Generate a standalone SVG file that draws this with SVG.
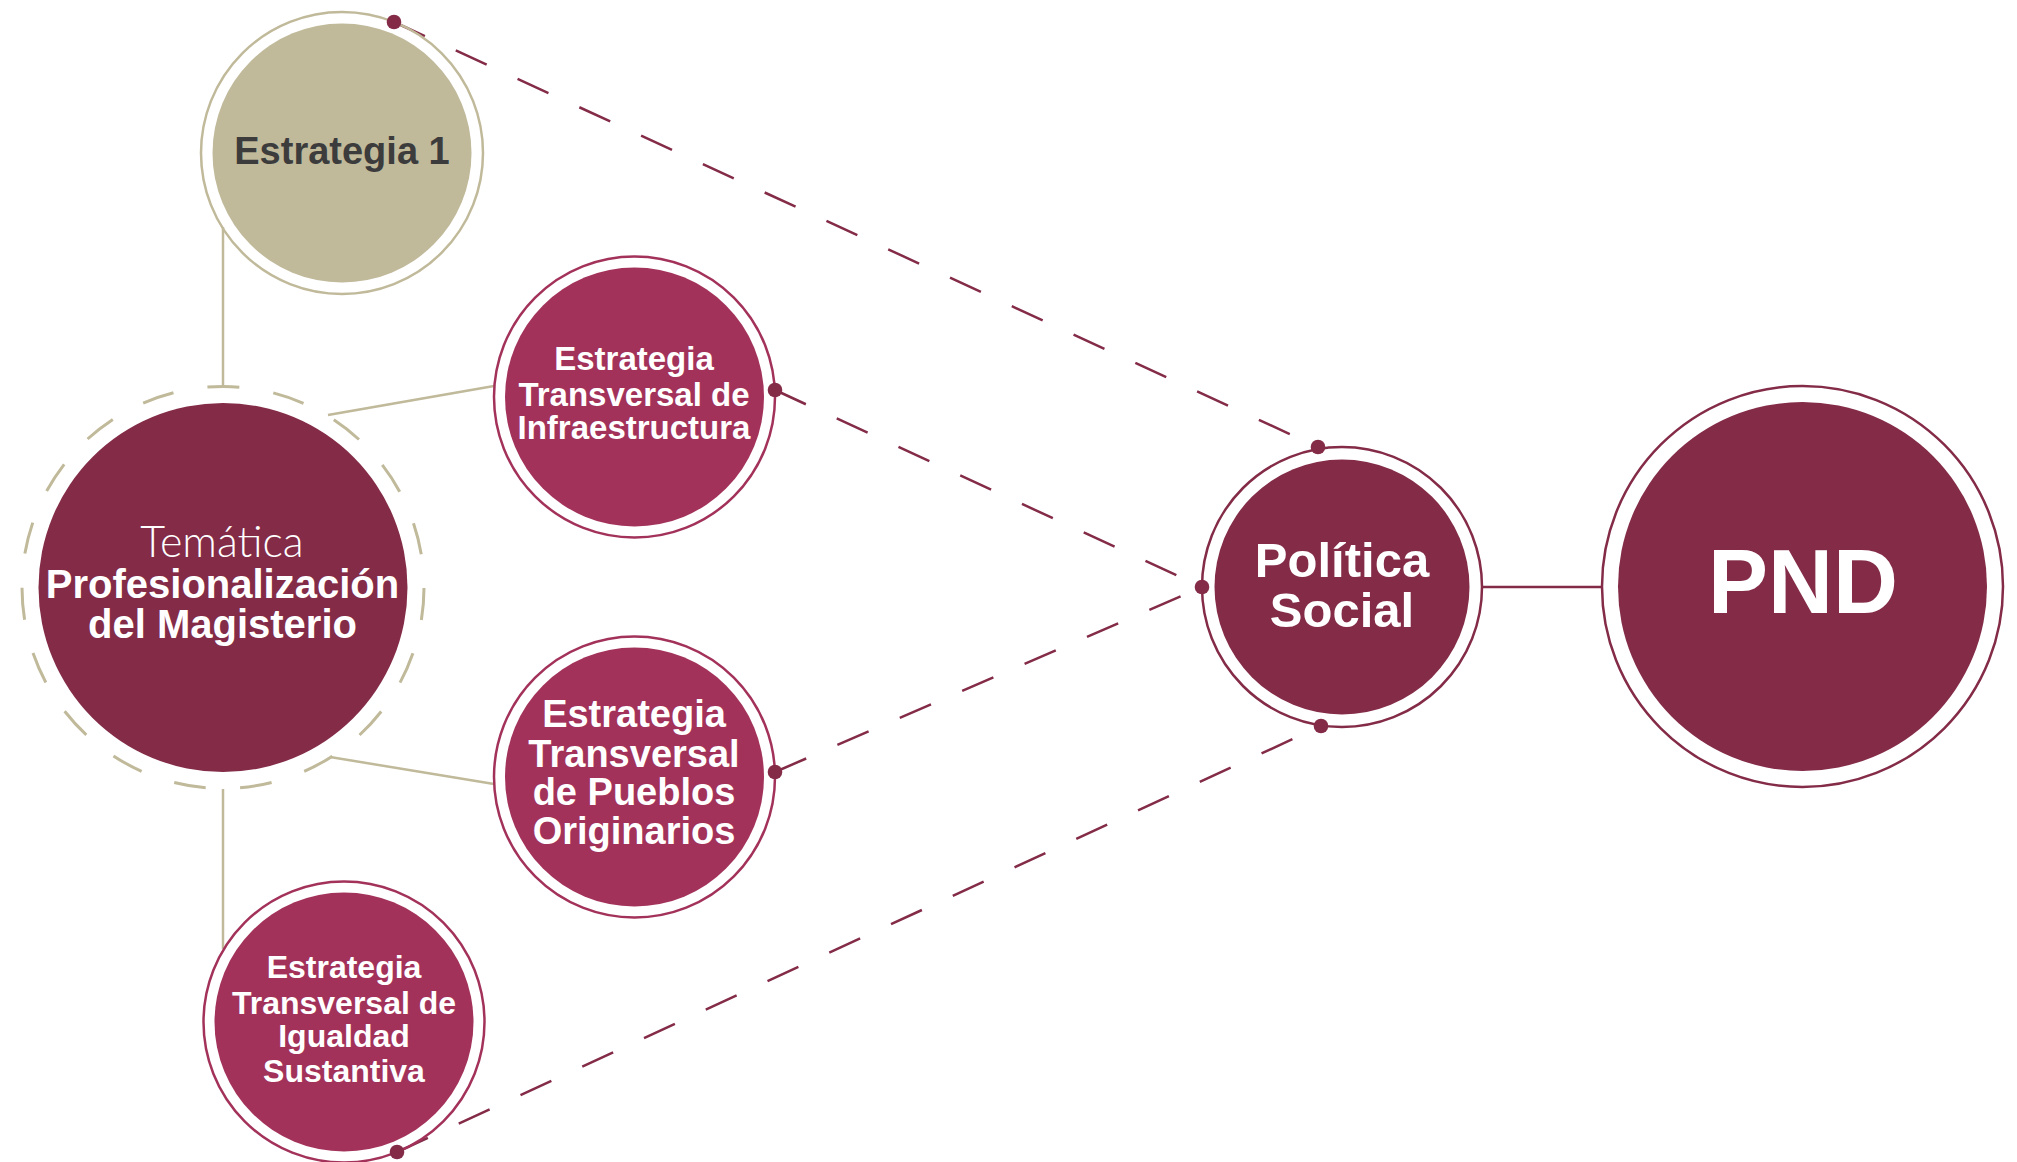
<svg xmlns="http://www.w3.org/2000/svg" width="2017" height="1162" viewBox="0 0 2017 1162">
<style>
.ring-b{fill:none;stroke:#c0b99a;stroke-width:2.5}
.ring-m{fill:none;stroke:#832b47;stroke-width:2.5}
.ring-c{fill:none;stroke:#a3325a;stroke-width:2.5}
.fill-b{fill:#c0b99a}
.fill-m{fill:#832b47}
.fill-c{fill:#a3325a}
.t{font-family:"Liberation Sans",Arial,sans-serif;font-weight:bold;fill:#ffffff;text-anchor:middle}
.tl{font-family:Lato,"Open Sans","Liberation Sans",sans-serif;font-weight:300;fill:#ffffff;text-anchor:middle}
.solid-b{stroke:#c0b99a;stroke-width:2.5;fill:none}
.solid-m{stroke:#832b47;stroke-width:2.5;fill:none}
.dash{stroke:#832b47;stroke-width:2.5;fill:none;stroke-dasharray:34 34}
.dot{fill:#832b47}
</style>
<rect width="2017" height="1162" fill="#ffffff"/>
<g id="connectors">
<line class="solid-b" x1="223" y1="227" x2="223" y2="387"/>
<line class="solid-b" x1="223" y1="789" x2="223" y2="949"/>
<line class="solid-b" x1="328" y1="415" x2="494" y2="386"/>
<line class="solid-b" x1="330" y1="757" x2="494" y2="784"/>
<line class="solid-m" x1="1482" y1="587" x2="1602" y2="587"/>
<line class="dash" x1="394" y1="22" x2="1318" y2="447"/>
<line class="dash" x1="775" y1="390" x2="1202" y2="587"/>
<line class="dash" x1="775" y1="772" x2="1202" y2="587"/>
<line class="dash" x1="397" y1="1152" x2="1321" y2="726"/>
</g>
<g id="estrategia1">
<circle class="ring-b" cx="342" cy="153" r="141"/>
<circle class="fill-b" cx="342" cy="153" r="129.5"/>
<text class="t" x="342" y="164" font-size="38" style="fill:#3c3c3c">Estrategia 1</text>
</g>
<g id="tematica">
<circle cx="223" cy="587.5" r="201" fill="none" stroke="#c0b99a" stroke-width="3" stroke-dasharray="32 34.47" stroke-dashoffset="-0.6"/>
<circle class="fill-m" cx="223" cy="587.5" r="184.5"/>
<text class="tl" x="222" y="557" font-size="43">Temática</text>
<text class="t" x="222.5" y="598" font-size="40">Profesionalización</text>
<text class="t" x="222.5" y="638" font-size="40">del Magisterio</text>
</g>
<g id="infraestructura">
<circle class="ring-c" cx="634.5" cy="397" r="140.5"/>
<circle class="fill-c" cx="634.5" cy="397" r="129.5"/>
<text class="t" x="634" y="370" font-size="33">Estrategia</text>
<text class="t" x="634" y="406" font-size="33">Transversal de</text>
<text class="t" x="634" y="439" font-size="33">Infraestructura</text>
</g>
<g id="pueblos">
<circle class="ring-c" cx="634.5" cy="777" r="140.5"/>
<circle class="fill-c" cx="634.5" cy="777" r="129.5"/>
<text class="t" x="634" y="727" font-size="38">Estrategia</text>
<text class="t" x="634" y="767" font-size="38">Transversal</text>
<text class="t" x="634" y="805" font-size="38">de Pueblos</text>
<text class="t" x="634" y="844" font-size="38">Originarios</text>
</g>
<g id="igualdad">
<circle class="ring-c" cx="344" cy="1022" r="140.5"/>
<circle class="fill-c" cx="344" cy="1022" r="129.5"/>
<text class="t" x="344" y="978" font-size="32">Estrategia</text>
<text class="t" x="344" y="1014" font-size="32">Transversal de</text>
<text class="t" x="344" y="1047" font-size="32">Igualdad</text>
<text class="t" x="344" y="1082" font-size="32">Sustantiva</text>
</g>
<g id="politica">
<circle class="ring-m" cx="1342" cy="587" r="140"/>
<circle class="fill-m" cx="1342" cy="587" r="127.5"/>
<text class="t" x="1342" y="577" font-size="49">Política</text>
<text class="t" x="1342" y="627" font-size="49">Social</text>
</g>
<g id="pnd">
<circle class="ring-m" cx="1802.5" cy="586.5" r="200.5"/>
<circle class="fill-m" cx="1802.5" cy="586.5" r="184.5"/>
<text class="t" x="1803" y="613" font-size="90">PND</text>
</g>
<g id="dots">
<circle class="dot" cx="394" cy="22" r="7.3"/>
<circle class="dot" cx="775" cy="390" r="7.3"/>
<circle class="dot" cx="775" cy="772" r="7.3"/>
<circle class="dot" cx="397" cy="1152" r="7.3"/>
<circle class="dot" cx="1318" cy="447" r="7.3"/>
<circle class="dot" cx="1202" cy="587" r="7.3"/>
<circle class="dot" cx="1321" cy="726" r="7.3"/>
</g>
</svg>
